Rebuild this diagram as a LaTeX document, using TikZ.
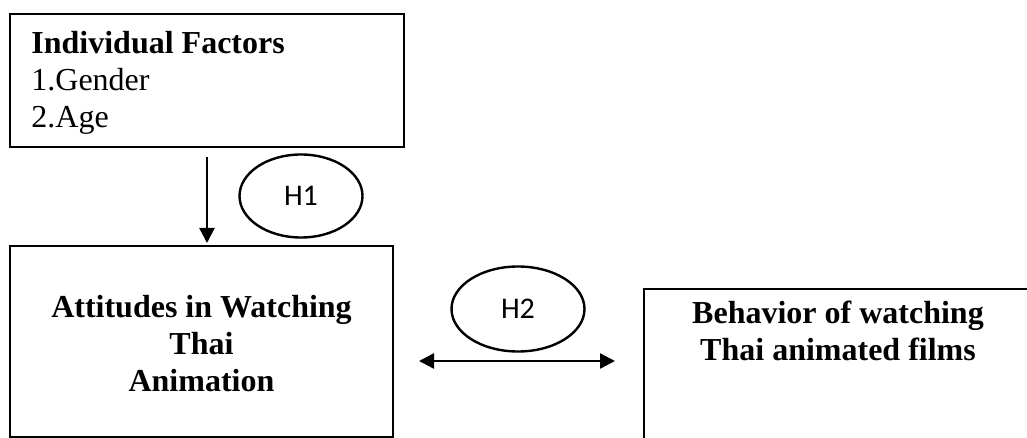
\documentclass[tikz,border=0pt]{standalone}
\usepackage{fontspec}
\setmainfont{Liberation Serif}
\newfontfamily\hfont{Carlito}
\usetikzlibrary{positioning,shapes.geometric,arrows.meta}

\begin{document}
\begin{tikzpicture}[x=0.5pt,y=-0.5pt,>={Triangle[length=7.5pt,width=7.5pt]},
    box/.style={rectangle,draw,line width=1pt,inner sep=0pt},
    hyp/.style={ellipse,draw,line width=1.2pt,inner sep=0pt,font=\hfont\fontsize{15}{17}\selectfont},
    bigtext/.style={font=\bfseries\fontsize{16}{18.5}\selectfont,align=center,inner sep=0pt}]

\useasboundingbox (0,0) rectangle (1027,438);

\node[box,anchor=north west,minimum width=197pt,minimum height=66.5pt] (indiv) at (9,13) {};
\node[anchor=north west,inner sep=0pt,align=left,font=\fontsize{16}{18.5}\selectfont] (indivtxt) at (31,31) {\textbf{Individual Factors}\\1.Gender\\2.Age};
\node[box,anchor=north west,minimum width=191.5pt,minimum height=95.5pt] (attit) at (9,245) {};
\node[bigtext,below=25pt of attit.north] (attittxt) {Attitudes in Watching\\Thai\\Animation};
\node[box,anchor=north west,minimum width=194pt,minimum height=100pt] (behav) at (643,288) {};
\node[bigtext,below=6.5pt of behav.north] (behavtxt) {Behavior of watching\\Thai animated films};

\node[hyp,minimum width=61.5pt,minimum height=41.5pt] (h1) at (301,196) {H1};
\node[hyp,minimum width=66.5pt,minimum height=42.5pt] (h2) at (518,309) {H2};

\coordinate (hl) at (419,361);
\coordinate (hr) at (615,361);

\draw[->,line width=1.2pt,shorten <=4.5pt,shorten >=1pt] (indiv.south) -- (indiv.south |- attit.north);
\draw[<->,line width=1.2pt] (hl) -- (hr);
\end{tikzpicture}
\end{document}
